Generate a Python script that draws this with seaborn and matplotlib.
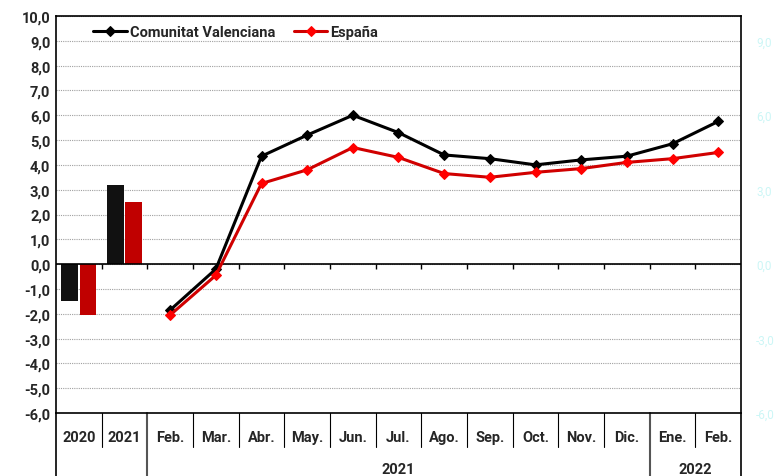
import matplotlib as mpl
import matplotlib.pyplot as plt
import matplotlib.transforms as mtransforms
import seaborn as sns
import pandas as pd
import numpy as np

sns.set_style('white')
mpl.rcParams['font.family'] = ['Roboto', 'DejaVu Sans']
mpl.rcParams['font.weight'] = 'bold'

# annual bars
years = ['2020', '2021']
cv_years = [-1.5, 3.2]
es_years = [-2.05, 2.5]

# monthly lines
months = ['Feb.', 'Mar.', 'Abr.', 'May.', 'Jun.', 'Jul.', 'Ago.', 'Sep.',
          'Oct.', 'Nov.', 'Dic.', 'Ene.', 'Feb.']
cv_months = [-1.85, -0.2, 4.35, 5.2, 6.0, 5.3, 4.4, 4.25, 4.0, 4.2, 4.35, 4.85, 5.75]
es_months = [-2.05, -0.45, 3.25, 3.8, 4.7, 4.3, 3.65, 3.5, 3.7, 3.85, 4.1, 4.25, 4.5]

groups = ['2021', '2022']
group_span = [(1.5, 12.5), (12.5, 14.5)]

CV = 'Comunitat Valenciana'
ES = 'España'

bars = pd.DataFrame({
    'cat': years * 2,
    'val': cv_years + es_years,
    'serie': [CV] * 2 + [ES] * 2,
})
pos = np.arange(len(years), len(years) + len(months))
lines_cv = pd.DataFrame({'x': pos, 'y': cv_months})
lines_es = pd.DataFrame({'x': pos, 'y': es_months})

fig = plt.figure(figsize=(7.8, 4.77), dpi=100)
ax = fig.add_axes([56/780, 1 - 414/477, (741-56)/780, (414-17)/477])

sns.barplot(data=bars, x='cat', y='val', hue='serie', ax=ax,
            palette={CV: '#111111', ES: '#c00000'}, width=0.8, gap=0.1,
            legend=False, saturation=1, edgecolor='none')

sns.lineplot(data=lines_cv, x='x', y='y', ax=ax, color='black', linewidth=2.2,
             marker='D', markersize=5.5, markerfacecolor='black',
             markeredgecolor='black', label=CV)
sns.lineplot(data=lines_es, x='x', y='y', ax=ax, color='#d00000', linewidth=2.2,
             marker='D', markersize=5.5, markerfacecolor='#ff0000',
             markeredgecolor='#ff0000', label=ES)

ax.set_ylim(-6, 10)
ax.set_xlim(-0.5, 14.5)
ax.set_yticks(np.arange(-6, 11, 1))
ax.set_yticklabels([f'{v:.1f}'.replace('.', ',') for v in np.arange(-6, 11, 1)],
                   fontsize=10.5, fontweight='bold')
ax.yaxis.grid(True, color='#a0a0a0', linestyle=(0, (1, 1)), linewidth=0.8)
ax.set_axisbelow(True)
ax.axhline(0, color='black', linewidth=1.2, zorder=1)

ax.set_xticks(np.arange(len(years) + len(months)))
ax.set_xticklabels(years + months, fontsize=10.5, fontweight='bold')
ax.tick_params(axis='x', length=0, pad=12)
ax.tick_params(axis='y', length=0, pad=4)
ax.set_xlabel('')
ax.set_ylabel('')
for s in ax.spines.values():
    s.set_color('black')
    s.set_linewidth(1.2)

# small ticks on the zero line
bounds = np.arange(0.5, 14.5, 1)
ax.vlines(bounds, -0.2, 0, color='black', linewidth=1, zorder=1)

# table-like separators below the axis
tr = mtransforms.blended_transform_factory(ax.transData, ax.transAxes)
short_h = 34 / 397
long_h = 63 / 397
for b in bounds:
    h = long_h if b in (1.5, 12.5) else short_h
    ax.plot([b, b], [0, -h], transform=tr, color='black' if h == short_h else '#555555',
            linewidth=0.8 if h == short_h else 1.5, clip_on=False)
for b in (-0.5, 14.5):
    ax.plot([b, b], [0, -long_h], transform=tr, color='black', linewidth=1.2, clip_on=False)

for g, (a, b) in zip(groups, group_span):
    ax.text((a + b) / 2, -56 / 397, g, transform=tr, ha='center', va='center',
            fontsize=10.5, fontweight='bold')

# faint right axis
ax2 = ax.twinx()
ax2.set_ylim(-6, 10)
ax2.set_yticks(np.arange(-6, 10, 3))
ax2.set_yticklabels([f'{v:.1f}'.replace('.', ',') for v in np.arange(-6, 10, 3)],
                    fontsize=8.5, fontweight='normal', color='#ccf6f6')
ax2.tick_params(axis='y', length=0, pad=11)
for s in ax2.spines.values():
    s.set_visible(False)
ax2.grid(False)

ax.legend(loc='upper left', bbox_to_anchor=(0.035, 1.01), ncol=2, frameon=False,
          handlelength=2.3, columnspacing=1.3, handletextpad=0.2,
          prop={'weight': 'bold', 'size': 10.5})

fig.savefig('out.png', dpi=100)
